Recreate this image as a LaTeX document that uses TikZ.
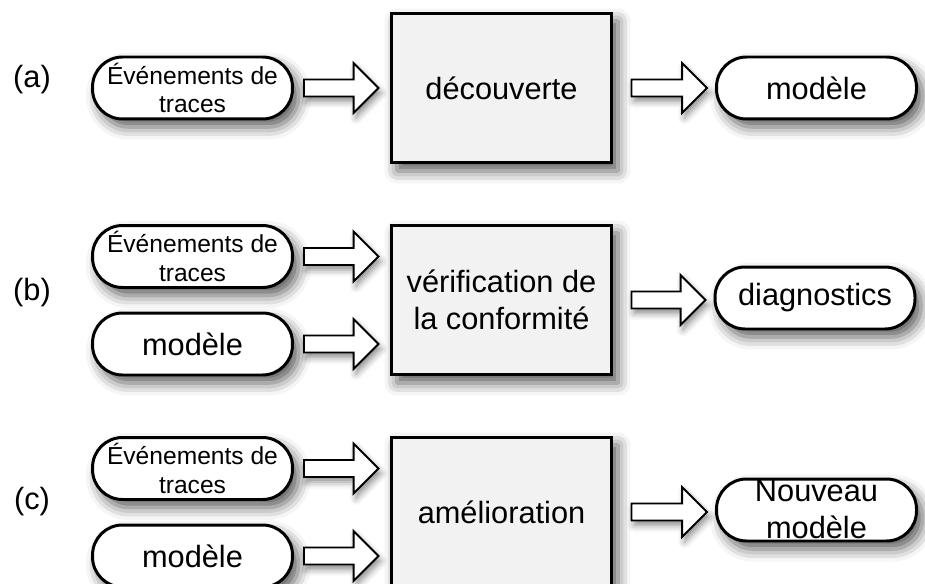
\documentclass[tikz,border=0pt]{standalone}
\usepackage{fontspec}
\setmainfont{Liberation Sans}
\usetikzlibrary{calc,shadows.blur}
\definecolor{fondetape}{HTML}{F2F2F2}
\tikzset{
    ombre/.style={blur shadow={shadow xshift=1.2mm, shadow yshift=-1.6mm, shadow blur radius=2.5mm, shadow opacity=65}},
    ombrefleche/.style={blur shadow={shadow xshift=0.5mm, shadow yshift=-1mm, shadow blur radius=1.3mm, shadow opacity=45}},
    entree/.style={draw, black, line width=1.7pt, fill=white, rounded corners=0.6cm, minimum width=4cm, minimum height=1.24cm, inner sep=0pt, align=center, ombre, font=\fontsize{17.5}{21}\selectfont},
    petit/.style={font=\fontsize{14}{16}\selectfont},
    etape/.style={draw, black, line width=1.7pt, fill=fondetape, minimum width=4.42cm, minimum height=3cm, inner sep=0pt, align=center, ombre, font=\fontsize{17.5}{21}\selectfont},
    fleche/.style={draw, black, line width=1.1pt, fill=white, line join=miter, ombrefleche},
    etiquette/.style={font=\fontsize{17.5}{21}\selectfont}
}
\newcommand{\fleche}[4]{
    \draw[fleche] ($(#1.east)+(#3,-8.5)$) -- ($(#1.east -| #2.west)+(-#4-25,-8.5)$) -- ++(0,-16.5)
        -- ($(#1.east -| #2.west)+(-#4,0)$) -- ++(-25,25) -- ++(0,-16.5) -- ($(#1.east)+(#3,8.5)$) -- cycle;
}
\begin{document}
\begin{tikzpicture}[x=0.02cm, y=-0.02cm]
    \useasboundingbox (0,0) rectangle (925,584);
    \clip (0,0) rectangle (925,584);
    \node[etiquette] (la) at (32,80) {(a)};
    \node[entree, petit] (ina) at (192.5,88) {Événements de\\traces};
    \node[etape] (boxa) at (501.5,88) {découverte};
    \node[entree] (outa) at (816.5,88) {modèle};
    \fleche{ina}{boxa}{10}{11}
    \fleche{boxa}{outa}{18}{8}
    \node[etiquette] (lb) at (32,293) {(b)};
    \node[entree, petit] (inb1) at (192.5,256.5) {Événements de\\traces};
    \node[entree] (inb2) at (192.5,344) {modèle};
    \node[etape] (boxb) at (501.5,300) {vérification de\\la conformité};
    \node[entree] (outb) at (815,298) {diagnostics};
    \fleche{inb1}{boxb}{10}{11}
    \fleche{inb2}{boxb}{10}{11}
    \fleche{boxb}{outb}{18}{8}
    \node[etiquette] (lc) at (32,502) {(c)};
    \node[entree, petit] (inc1) at (192.5,468.5) {Événements de\\traces};
    \node[entree] (inc2) at (192.5,556) {modèle};
    \node[etape] (boxc) at (501.5,512) {amélioration};
    \node[entree] (outc) at (816.5,510) {Nouveau\\modèle};
    \fleche{inc1}{boxc}{10}{11}
    \fleche{inc2}{boxc}{10}{11}
    \fleche{boxc}{outc}{18}{8}
\end{tikzpicture}
\end{document}
